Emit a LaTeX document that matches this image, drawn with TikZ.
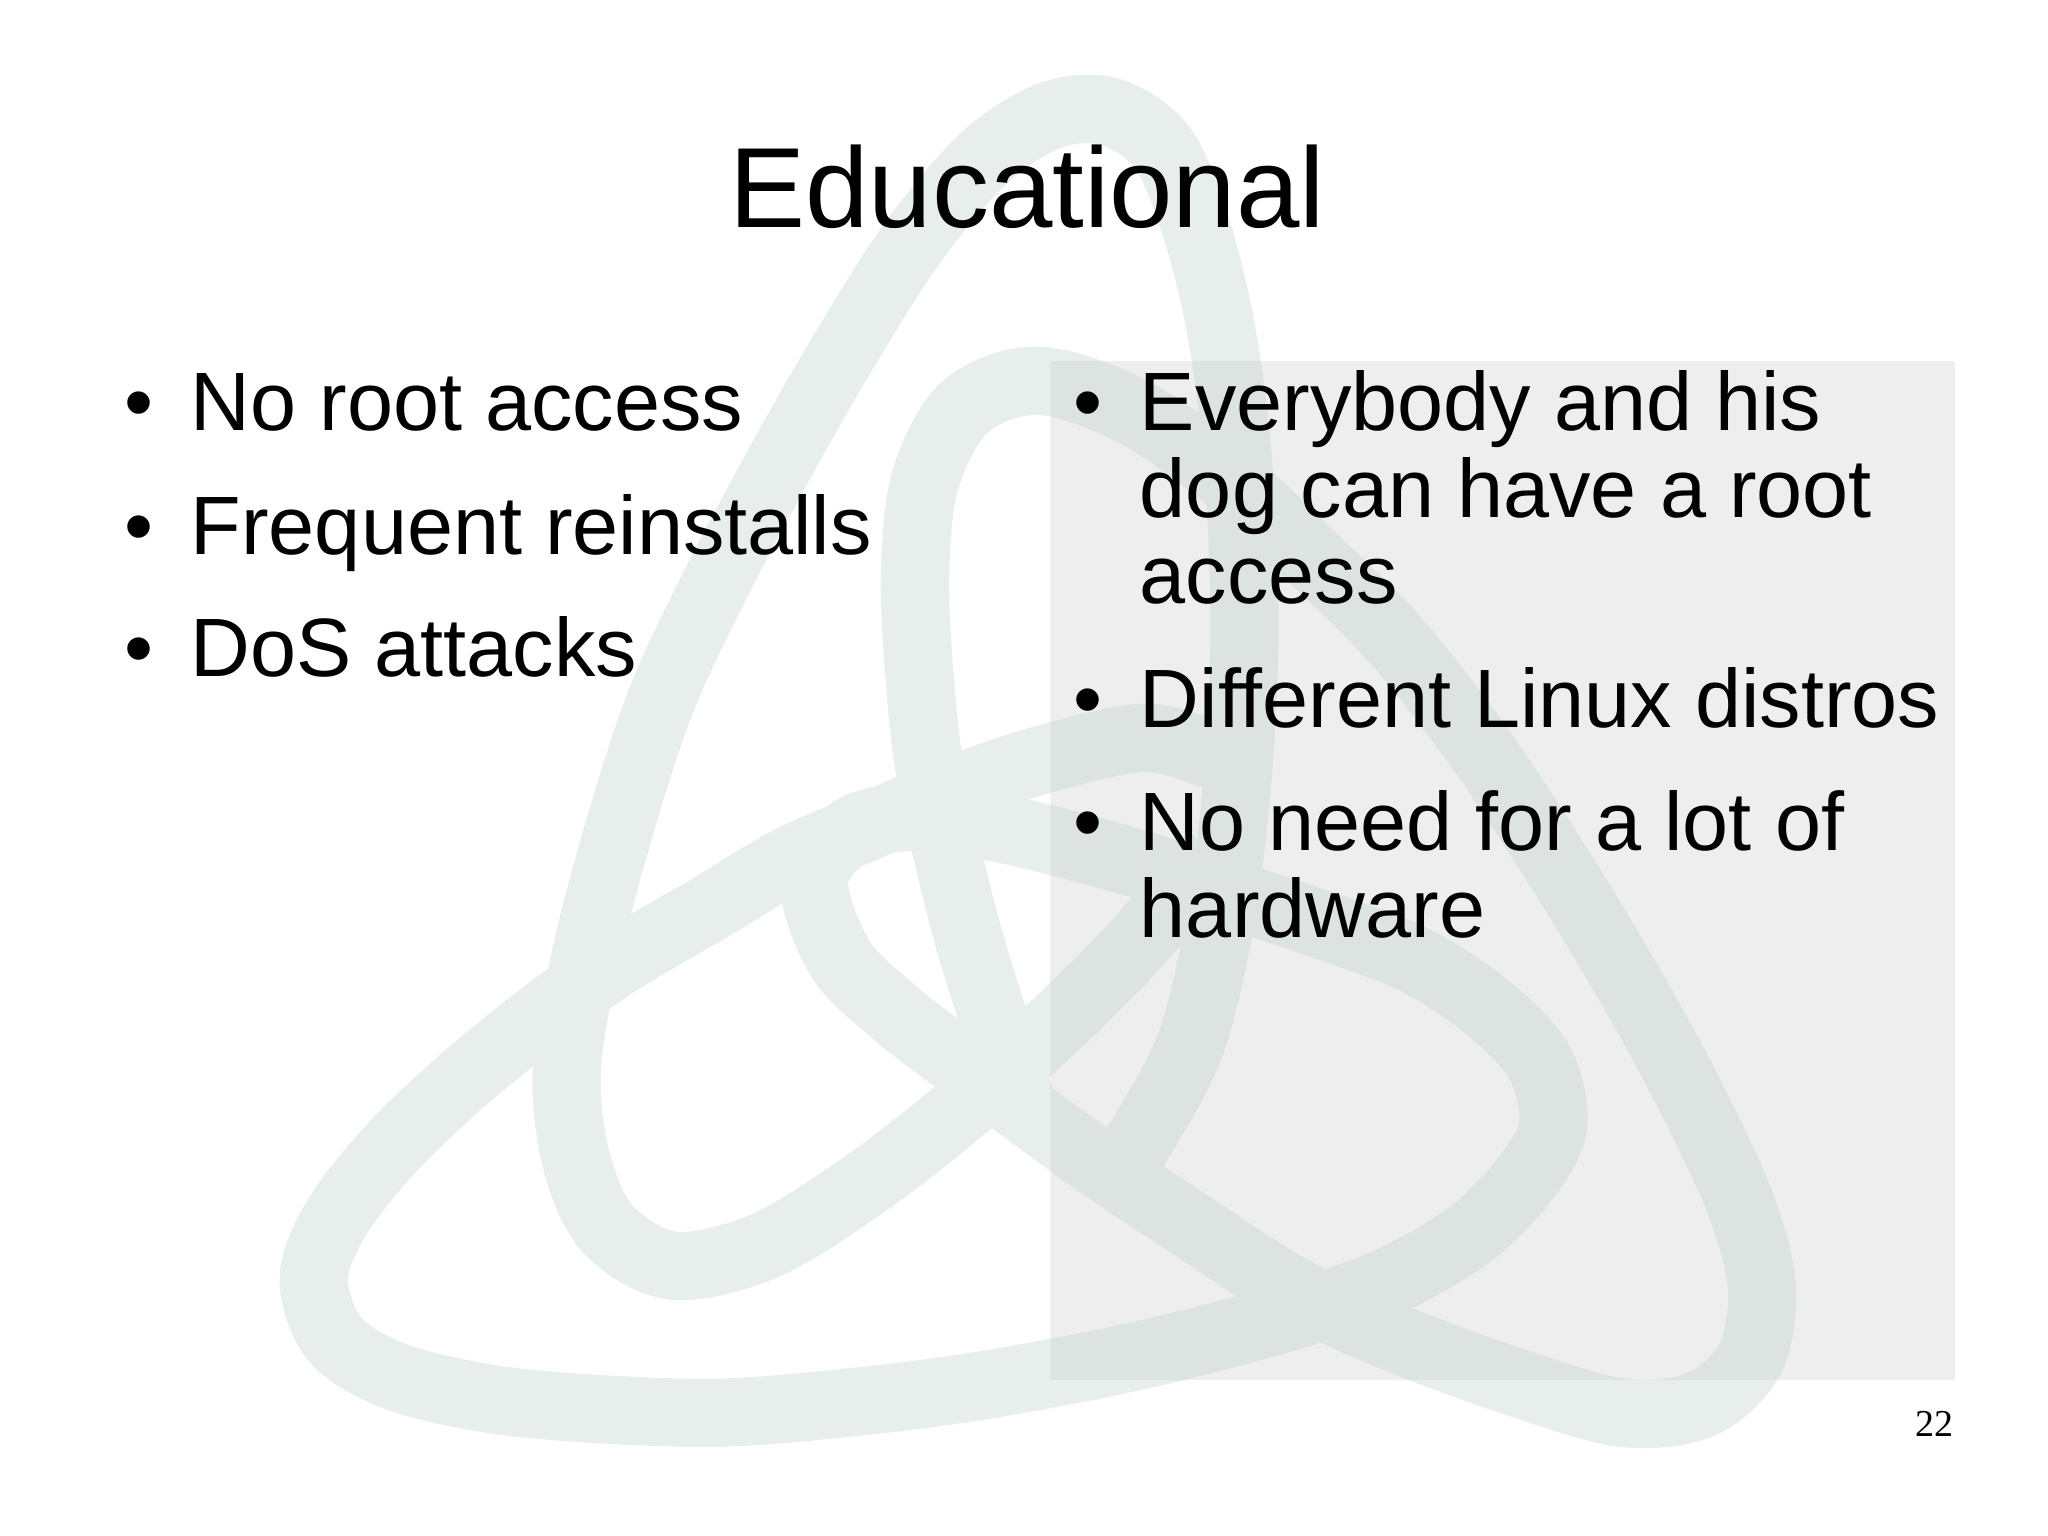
\documentclass[tikz,border=0pt]{standalone}
\usepackage{fontspec}
\setmainfont{Liberation Sans}
\newfontfamily\pagefont{Liberation Serif}
\definecolor{knotout}{HTML}{E7EEEB}
\definecolor{knotin}{HTML}{DDE3E1}
\definecolor{panelgray}{HTML}{EFEEEF}
\newcommand{\knotpaths}[1]{%
  \draw[knotline,#1] plot[smooth,tension=0.55] coordinates {(925,650)(860,725)(792,792)(720,855)(650,908)(580,950)(512,964)(462,935)(438,880)(432,810)(448,720)(475,620)(505,530)(545,445)(590,360)(640,272)(695,185)(750,120)(800,88)(845,85)(885,112)(910,170)(928,240)(940,320)(946,400)(948,480)(945,560)(938,640)(925,725)(905,800)(870,865)(835,915)};
  \draw[knotline,#1] plot[smooth,tension=0.55] coordinates {(935,580)(875,562)(800,577)(730,600)(665,628)(602,655)(540,692)(475,730)(415,772)(350,825)(295,878)(255,930)(239,975)(255,1020)(300,1048)(370,1065)(450,1073)(550,1076)(650,1068)(750,1055)(870,1032)(985,1002)(1060,975)(1120,940)(1160,900)(1183,858)(1172,808)(1130,765)(1075,730)(1000,702)(940,682)(880,662)(820,645)(762,631)(700,622)(650,632)(620,670)(640,730)(680,770)(725,805)(780,845)(835,885)(910,935)(985,983)(1065,1020)(1155,1053)(1235,1076)(1295,1070)(1333,1035)(1342,980)(1325,915)(1285,830)(1243,753)(1190,665)(1128,571)(1065,490)(1000,425)(930,360)(860,312)(790,290)(735,310)(705,365)(697,435)(700,510)(708,585)(724,660)(738,715)(755,770)(780,845)};
}
\tikzset{
  knotline/.style={line width=34.1pt,line join=round},
  titletext/.style={anchor=base,inner sep=0pt,font=\fontsize{57}{57}\selectfont},
  bodytext/.style={anchor=base west,inner sep=0pt,font=\fontsize{41.4}{41.4}\selectfont},
  bullettext/.style={anchor=base,inner sep=0pt,font=\fontsize{41.4}{41.4}\selectfont},
  pagenum/.style={anchor=base east,inner sep=0pt,font=\pagefont\fontsize{19}{19}\selectfont}
}
\begin{document}
\begin{tikzpicture}[x=0.6564pt,y=-0.6564pt]
\useasboundingbox (0,0) rectangle (1560,1169.3);
\fill[white] (0,0) rectangle (1560,1169.3);
\knotpaths{knotout}
\begin{scope}
  \clip (800,275) rectangle (1489,1051);
  \fill[panelgray] (800,275) rectangle (1489,1051);
  \knotpaths{knotin}
\end{scope}
\node[titletext] (title) at (782.5,173) {Educational};
\node[bullettext] (bl1) at (106,328) {•};
\node[bodytext] (l1) at (145,328) {No root access};
\node[bullettext] (bl2) at (106,422) {•};
\node[bodytext] (l2) at (145,422) {Frequent reinstalls};
\node[bullettext] (bl3) at (106,515) {•};
\node[bodytext] (l3) at (145,515) {DoS attacks};
\node[bullettext] (br1) at (829,328) {•};
\node[bodytext] (r1a) at (868,328) {Everybody and his};
\node[bodytext] (r1b) at (868,394) {dog can have a root};
\node[bodytext] (r1c) at (868,460) {access};
\node[bullettext] (br2) at (829,554) {•};
\node[bodytext] (r2) at (868,554) {Different Linux distros};
\node[bullettext] (br3) at (829,648) {•};
\node[bodytext] (r3a) at (868,648) {No need for a lot of};
\node[bodytext] (r3b) at (868,714) {hardware};
\node[pagenum] (num) at (1488,1094) {22};
\end{tikzpicture}
\end{document}
